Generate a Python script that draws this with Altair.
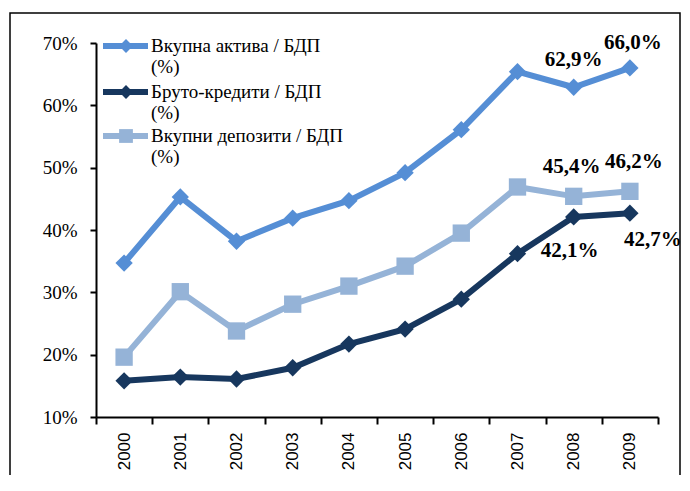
import altair as alt
import pandas as pd

years = [str(y) for y in range(2000, 2010)]
series_names = ["Вкупна актива / БДП (%)", "Бруто-кредити / БДП (%)", "Вкупни депозити / БДП (%)"]
legend_texts = ["Вкупна актива / БДП\n(%)", "Бруто-кредити / БДП\n(%)", "Вкупни депозити / БДП\n(%)"]
assets = [34.7, 45.3, 38.2, 41.9, 44.7, 49.2, 56.1, 65.4, 62.9, 66.0]
loans = [15.8, 16.4, 16.1, 17.9, 21.7, 24.1, 28.9, 36.2, 42.1, 42.7]
deposits = [19.6, 30.1, 23.8, 28.1, 31.0, 34.2, 39.5, 46.9, 45.4, 46.2]
colors = ["#558ED5", "#17375E", "#95B3D7"]
shapes = ["diamond", "diamond", "square"]
y_ticks = [10, 20, 30, 40, 50, 60, 70]

rows = []
for name, vals in zip(series_names, [assets, loans, deposits]):
    for yr, v in zip(years, vals):
        rows.append({"year": yr, "series": name, "value": v,
                     "label": f"{v:.1f}".replace(".", ",") + "%"})
df = pd.DataFrame(rows)

x_enc = alt.X("year:N", sort=years, scale=alt.Scale(paddingInner=0, paddingOuter=0),
              axis=alt.Axis(title=None, labelAngle=270, labelFont="Liberation Sans", labelFontSize=17,
                            labelColor="#000", tickBand="extent", tickSize=7, tickColor="#000",
                            tickWidth=2, domainColor="#000", domainWidth=2, labelPadding=8))
y_enc = alt.Y("value:Q", scale=alt.Scale(domain=[10, 70], nice=False),
              axis=alt.Axis(title=None, values=y_ticks, labelExpr="datum.value + '%'",
                            labelFont="Liberation Serif", labelFontSize=19, labelColor="#000",
                            tickSize=6, tickColor="#000", tickWidth=2, domainColor="#000",
                            domainWidth=2, labelPadding=13, grid=False))
color_enc = alt.Color("series:N", scale=alt.Scale(domain=series_names, range=colors), legend=None)

base = alt.Chart(df)
lines = base.mark_line(strokeWidth=6).encode(x=x_enc, y=y_enc, color=color_enc)
points = base.mark_point(filled=True, size=300, opacity=1).encode(
    x=x_enc, y=y_enc, color=color_enc,
    shape=alt.Shape("series:N", scale=alt.Scale(domain=series_names, range=shapes), legend=None))

label_specs = [
    (series_names[0], "2008", 0, -27),
    (series_names[0], "2009", 3, -25),
    (series_names[2], "2008", -2, -29),
    (series_names[2], "2009", 4, -29),
    (series_names[1], "2008", -4, 34),
    (series_names[1], "2009", 23, 27),
]
label_layers = []
for s, yr, dx, dy in label_specs:
    sub = df[(df.series == s) & (df.year == yr)]
    label_layers.append(
        alt.Chart(sub).mark_text(font="Liberation Serif", fontSize=21, fontWeight="bold",
                                 color="#000", dx=dx, dy=dy).encode(
            x=alt.X("year:N", sort=years), y="value:Q", text="label:N"))

# manual legend
legend_layers = []
leg_y = [3, 49, 93]
for i, (txt, col, shp) in enumerate(zip(legend_texts, colors, shapes)):
    ld = pd.DataFrame({"t": [txt]})
    lc = alt.Chart(ld)
    legend_layers.append(lc.mark_rule(color=col, strokeWidth=6).encode(
        x=alt.value(7), x2=alt.value(52), y=alt.value(leg_y[i])))
    legend_layers.append(lc.mark_point(filled=True, opacity=1, color=col, shape=shp, size=190).encode(
        x=alt.value(30), y=alt.value(leg_y[i])))
    legend_layers.append(lc.mark_text(font="Liberation Serif", fontSize=19, color="#000", align="left",
                                      baseline="middle", lineBreak="\n", lineHeight=21).encode(
        x=alt.value(55), y=alt.value(leg_y[i]), text="t:N"))

border = alt.Chart(pd.DataFrame({"a": [0]})).mark_rect(fill=None, stroke="#000", strokeWidth=1.5).encode(
    x=alt.value(-86), x2=alt.value(584), y=alt.value(-30), y2=alt.value(470))

chart = alt.layer(border, lines, points, *label_layers, *legend_layers).resolve_scale(
    shape="independent").properties(
    width=562, height=374, autosize=alt.AutoSizeParams(type="none"),
    padding={"left": 88, "top": 35, "right": 24, "bottom": 58},
    background="white"
).configure_view(stroke=None)

chart.save("out.html", embed_options={"renderer": "svg", "actions": False})
